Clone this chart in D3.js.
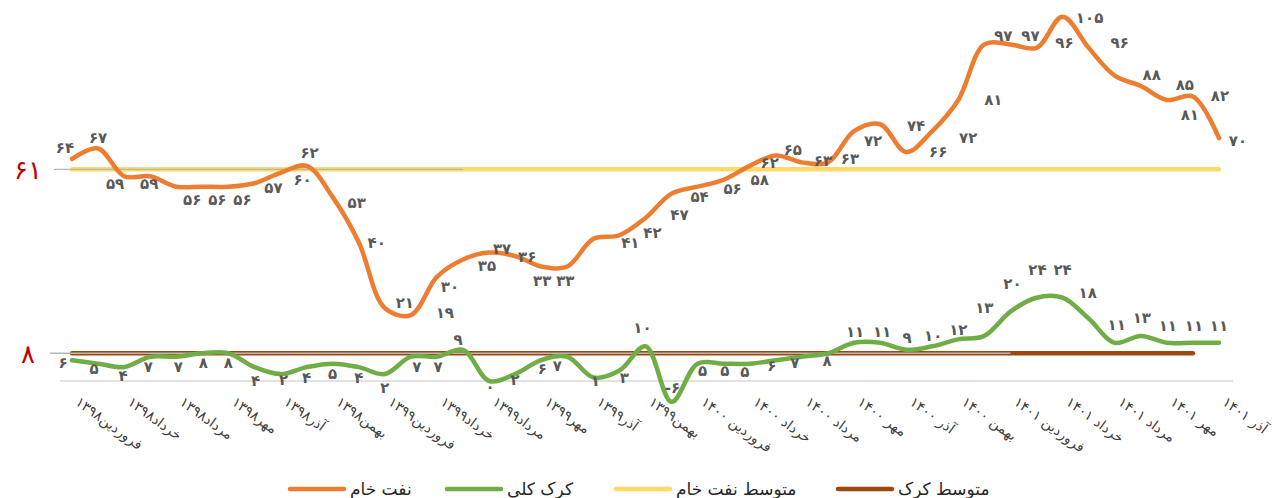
<!DOCTYPE html>
<html>
<head>
<meta charset="utf-8">
<script src="https://cdn.jsdelivr.net/npm/d3@7"></script>
<style>
  html, body { margin: 0; padding: 0; background: #fff; }
  svg { display: block; }
</style>
</head>
<body>
<svg id="chart" width="1272" height="498"></svg>
<script>
// Monthly categories, Farvardin 1398 through Azar 1401
const categories = [
  "فروردین۱۳۹۸","اردیبهشت۱۳۹۸","خرداد۱۳۹۸","تیر۱۳۹۸","مرداد۱۳۹۸","شهریور۱۳۹۸",
  "مهر۱۳۹۸","آبان۱۳۹۸","آذر۱۳۹۸","دی۱۳۹۸","بهمن۱۳۹۸","اسفند۱۳۹۸",
  "فروردین۱۳۹۹","اردیبهشت۱۳۹۹","خرداد۱۳۹۹","تیر۱۳۹۹","مرداد۱۳۹۹","شهریور۱۳۹۹",
  "مهر۱۳۹۹","آبان۱۳۹۹","آذر۱۳۹۹","دی۱۳۹۹","بهمن۱۳۹۹","اسفند۱۳۹۹",
  "فروردین ۱۴۰۰","اردیبهشت ۱۴۰۰","خرداد ۱۴۰۰","تیر ۱۴۰۰","مرداد ۱۴۰۰","شهریور ۱۴۰۰",
  "مهر ۱۴۰۰","آبان ۱۴۰۰","آذر ۱۴۰۰","دی ۱۴۰۰","بهمن ۱۴۰۰","اسفند ۱۴۰۰",
  "فروردین ۱۴۰۱","اردیبهشت ۱۴۰۱","خرداد ۱۴۰۱","تیر ۱۴۰۱","مرداد ۱۴۰۱","شهریور ۱۴۰۱",
  "مهر ۱۴۰۱","آبان ۱۴۰۱","آذر ۱۴۰۱"
];

// Crude oil price
const crudeOil = [64,67,59,59,56,56,56,57,60,62,53,40,21,19,30,35,37,36,33,33,
                  41,42,47,54,56,58,62,65,63,63,72,74,66,72,81,97,97,96,105,96,
                  88,85,81,82,70];

// Overall crack spread
const crack = [6,5,4,7,7,8,8,4,2,4,5,4,2,7,7,9,0,2,6,7,
               1,3,10,-6,5,5,5,6,7,8,11,11,9,10,12,13,20,24,24,18,
               11,13,11,11,11];

// Period averages
const crudeOilAvg = 61;
const crackAvg = 8;
const crackAvgPoints = 44;

// Axis tick labels shown at the two averages
const yTickValues = [61, 8];

const seriesNames = ["نفت خام", "کرک کلی", "متوسط نفت خام", "متوسط کرک"];
const colors = ["#ED7D31", "#70AD47", "#FFD966", "#9E480E"];

// Data-label nudges [dx, dy] relative to each point
const oilLabelNudge = [
  [-7,-11],[0,-11],[-9,7],[-1,7],[16,13],[15,13],[14,13],[19,4],[22,7],[3,-13],
  [24,6],[18,0],[20,-6],[34,-2],[13,10],[24,6],[13,-4],[12,1],[1,14],[-2,14],
  [37,4],[33,-3],[34,-3],[28,3],[35,2],[36,0],[20,-3],[17,-6],[21,-2],[22,-4],
  [19,9],[36,1],[32,0],[36,6],[35,0],[19,-9],[20,-9],[28,-5],[27,1],[31,-5],
  [37,-1],[44,-1],[23,15],[27,-1],[19,2]
];
const crackLabelNudge = [
  [-9,2],[-4,5],[-1,8],[-2,10],[2,10],[1,9],[0,9],[1,13],[3,6],[0,10],
  [0,10],[0,10],[0,14],[6,10],[1,10],[-5,-10],[1,6],[0,6],[1,8],[-10,9],
  [2,3],[5,7],[-3,-19],[1,-14],[5,7],[1,7],[-5,8],[-4,5],[-7,6],[-1,7],
  [1,-11],[2,-11],[1,-12],[1,-11],[0,-10],[0,-28],[2,-28],[1,-28],[0,-28],[-1,-26],
  [2,-18],[1,-18],[1,-17],[1,-17],[0,-17]
];

const faDigits = "۰۱۲۳۴۵۶۷۸۹";
const toFa = v => String(v).replace(/\d/g, d => faDigits[+d]);

const svg = d3.select("#chart");

const x = d3.scalePoint().domain(categories).range([72, 1219]);
const y = d3.scaleLinear().domain([0, 100]).range([381, 34]);

const labelFont = "'DejaVu Sans', sans-serif";

// Category axis baseline
svg.append("line")
  .attr("x1", 60).attr("x2", 1233)
  .attr("y1", y(0)).attr("y2", y(0))
  .attr("stroke", "#d9d9d9").attr("stroke-width", 1.5);

// Category labels, every second month, slanted
const xAxis = d3.axisBottom(x)
  .tickValues(categories.filter((d, i) => i % 2 === 0))
  .tickSize(0).tickPadding(0);
const gx = svg.append("g").attr("transform", `translate(0, ${y(0)})`).call(xAxis);
gx.select(".domain").remove();
gx.selectAll("text")
  .attr("font-family", labelFont)
  .attr("font-size", 14)
  .attr("fill", "#404040")
  .attr("text-anchor", "start")
  .attr("x", 0).attr("y", 0).attr("dy", 0)
  .attr("transform", "translate(2, 23) rotate(36)");

// Average lines
const line = d3.line()
  .x((d, i) => x(categories[i]))
  .y(d => y(d));

svg.append("path")
  .datum(categories.map(() => crudeOilAvg))
  .attr("d", line)
  .attr("fill", "none").attr("stroke", colors[2])
  .attr("stroke-width", 4.5).attr("stroke-linecap", "round");

svg.append("path")
  .datum(d3.range(crackAvgPoints).map(() => crackAvg))
  .attr("d", line)
  .attr("fill", "none").attr("stroke", colors[3])
  .attr("stroke-width", 4.5).attr("stroke-linecap", "round");

// Thin grey guides running along the averages
svg.append("line")
  .attr("x1", 54).attr("x2", x(categories[15]))
  .attr("y1", y(crudeOilAvg)).attr("y2", y(crudeOilAvg))
  .attr("stroke", "#b7b7b7").attr("stroke-width", 1.3);
svg.append("line")
  .attr("x1", 50).attr("x2", x(categories[36]))
  .attr("y1", y(crackAvg)).attr("y2", y(crackAvg))
  .attr("stroke", "#b7b7b7").attr("stroke-width", 1.3);

// Value axis labels at the averages
svg.selectAll("text.ytick")
  .data(yTickValues)
  .join("text")
  .attr("class", "ytick")
  .attr("x", 28).attr("y", d => y(d))
  .attr("dy", "0.36em")
  .attr("text-anchor", "middle")
  .attr("font-family", labelFont)
  .attr("font-size", 26)
  .attr("fill", "#C00000")
  .text(d => toFa(d));

// Smoothed series lines
const smooth = d3.line()
  .x((d, i) => x(categories[i]))
  .y(d => y(d))
  .curve(d3.curveCatmullRom.alpha(0.5));

svg.append("path")
  .datum(crack)
  .attr("d", smooth)
  .attr("fill", "none").attr("stroke", colors[1])
  .attr("stroke-width", 4.5).attr("stroke-linecap", "round");

svg.append("path")
  .datum(crudeOil)
  .attr("d", smooth)
  .attr("fill", "none").attr("stroke", colors[0])
  .attr("stroke-width", 4.5).attr("stroke-linecap", "round");

// Data labels
function drawLabels(values, nudges, cls) {
  svg.selectAll("text." + cls)
    .data(values)
    .join("text")
    .attr("class", cls)
    .attr("x", (d, i) => x(categories[i]) + nudges[i][0])
    .attr("y", (d, i) => y(d) + nudges[i][1])
    .attr("dy", "0.36em")
    .attr("text-anchor", "middle")
    .attr("font-family", labelFont)
    .attr("font-weight", "bold")
    .attr("font-size", 15)
    .attr("fill", "#595959")
    .text(d => toFa(d));
}
drawLabels(crudeOil, oilLabelNudge, "oil-label");
drawLabels(crack, crackLabelNudge, "crack-label");

// Legend
const legendX = [290, 447, 616, 838];
const legend = svg.append("g");
seriesNames.forEach((name, i) => {
  legend.append("line")
    .attr("x1", legendX[i]).attr("x2", legendX[i] + 54)
    .attr("y1", 489).attr("y2", 489)
    .attr("stroke", colors[i]).attr("stroke-width", 4.5)
    .attr("stroke-linecap", "round");
  legend.append("text")
    .attr("x", legendX[i] + 60).attr("y", 489)
    .attr("dy", "0.36em")
    .attr("font-family", labelFont)
    .attr("font-size", 17)
    .attr("fill", "#262626")
    .attr("text-anchor", "start")
    .text(name);
});
</script>
</body>
</html>
